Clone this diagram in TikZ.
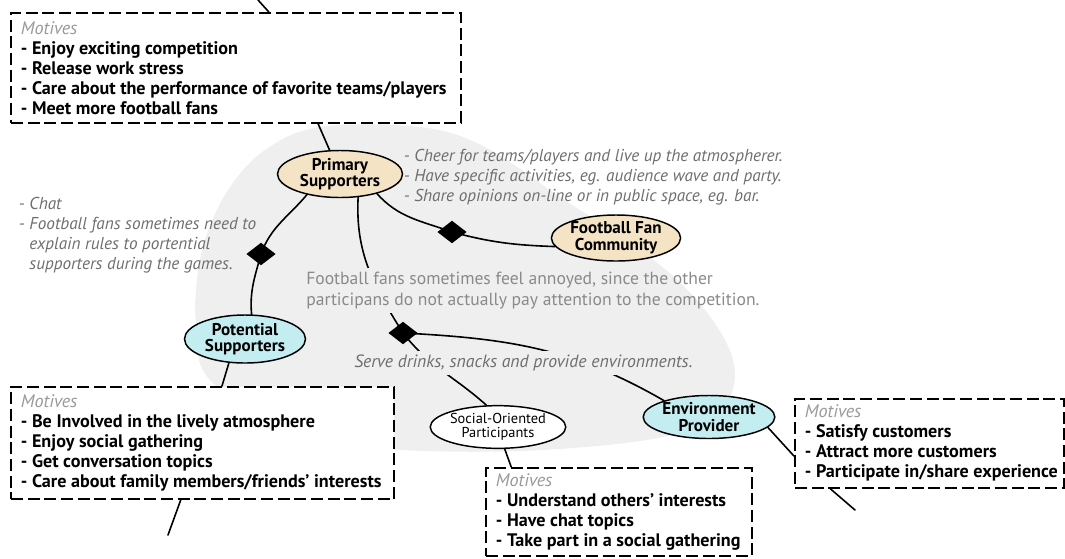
\documentclass[tikz,border=0pt]{standalone}
\usepackage{fontspec}
\setmainfont{PT Sans}
\usetikzlibrary{shapes.geometric,calc}

\definecolor{blobgray}{HTML}{EFEFEF}
\definecolor{beige}{HTML}{F5E3C6}
\definecolor{aqua}{HTML}{C4EDF2}
\definecolor{notegray}{HTML}{6E6E6E}
\definecolor{softgray}{HTML}{8A8A8A}
\definecolor{labelgray}{HTML}{9A9A9A}

\pgfdeclarelayer{blobs}
\pgfdeclarelayer{links}
\pgfdeclarelayer{masks}
\pgfsetlayers{blobs,links,masks,main}

% shared outline of the shaded field behind the roles
\def\blobpath{plot[smooth cycle, tension=0.6] coordinates {(210,380) (197,330) (196,290) (205,240) (228,190) (265,150) (320,127) (420,127) (485,147) (560,197) (650,257) (705,310) (733,360) (728,400) (690,428) (633,442) (520,451) (400,450) (300,440)}}

\newcommand\motlabel{\textmd{\textit{\color{labelgray}Motives}}}

\begin{document}
\begin{tikzpicture}[x=0.75pt,y=-0.75pt,
  role/.style={ellipse, draw, line width=1.1pt, inner sep=0pt, align=center,
    font=\bfseries\fontsize{12.8}{12.4}\selectfont},
  minor/.style={ellipse, draw, line width=1.1pt, inner sep=0pt, align=center,
    font=\fontsize{10.8}{10.8}\selectfont, fill=white},
  link/.style={line width=1.2pt, line cap=round},
  joint/.style={diamond, fill=black, inner sep=0pt, minimum width=22pt, minimum height=17pt},
  motbox/.style={draw, line width=1.3pt, dash pattern=on 9pt off 3.5pt, fill=white,
    anchor=north west, inner sep=0pt},
  mottext/.style={anchor=west, align=left, inner sep=0pt,
    font=\bfseries\fontsize{13.6}{15}\selectfont},
  note/.style={inner sep=2pt, align=left, text=notegray,
    font=\itshape\fontsize{12.9}{15}\selectfont},
  remark/.style={inner sep=3pt, align=left, text=softgray,
    font=\fontsize{13.2}{15.75}\selectfont},
]
\useasboundingbox (0,0) rectangle (1065,558);

% shaded field
\begin{pgfonlayer}{blobs}
  \fill[blobgray] \blobpath;
\end{pgfonlayer}

% roles
\node[role, fill=beige, minimum width=93.75pt, minimum height=35.25pt] (prim) at (340,174) {Primary\\Supporters};
\node[role, fill=beige, minimum width=91.5pt, minimum height=34.5pt] (ffc) at (616,238) {Football Fan\\Community};
\node[role, fill=aqua, minimum width=90.75pt, minimum height=36pt] (pot) at (245,339) {Potential\\Supporters};
\node[role, fill=aqua, minimum width=87pt, minimum height=32.25pt] (env) at (709,417) {Environment\\Provider};
\node[minor, minimum width=87pt, minimum height=32pt] (soc) at (498,427) {Social-Oriented\\Participants};

% relation markers
\node[joint] (d1) at (261,254) {};
\node[joint] (d2) at (452,232) {};
\node[joint] (d3) at (403,333) {};

% annotations
\node[note, anchor=west] (cheer) at (401,177) {- Cheer for teams/players and live up the atmospherer.\\- Have specific activities, eg. audience wave and party.\\- Share opinions on-line or in public space, eg. bar.};
\node[note, anchor=west] (chat) at (16,235) {- Chat\\- Football fans sometimes need to\\\hphantom{- }explain rules to portential\\\hphantom{- }supporters during the games.};
\node[remark, anchor=west] (annoy) at (302,290.5) {Football fans sometimes feel annoyed, since the other\\participans do not actually pay attention to the competition.};
\node[note, inner sep=3pt, anchor=west, font=\itshape\fontsize{13.3}{15}\selectfont] (serve) at (350,363) {Serve drinks, snacks and provide environments.};

% motive boxes
\node[motbox, minimum width=337.5pt, minimum height=82.5pt] (mot1) at (10,12) {};
\node[mottext] (mot1t) at ([xshift=8pt]mot1.west)
  {\motlabel\\- Enjoy exciting competition\\- Release work stress\\- Care about the performance of favorite teams/players\\- Meet more football fans};
\node[motbox, minimum width=287.25pt, minimum height=84pt] (mot2) at (10,386) {};
\node[mottext] (mot2t) at ([xshift=8pt]mot2.west)
  {\motlabel\\- Be Involved in the lively atmosphere\\- Enjoy social gathering\\- Get conversation topics\\- Care about family members/friends' interests};
\node[motbox, minimum width=199.5pt, minimum height=66pt] (mot3) at (485,467) {};
\node[mottext] (mot3t) at ([xshift=8pt]mot3.west)
  {\motlabel\\- Understand others’ interests\\- Have chat topics\\- Take part in a social gathering};
\node[motbox, minimum width=201.75pt, minimum height=66.75pt] (mot4) at (794,398) {};
\node[mottext] (mot4t) at ([xshift=8pt]mot4.west)
  {\motlabel\\- Satisfy customers\\- Attract more customers\\- Participate in/share experience};

% loose ends leading out of the picture
\coordinate (out1) at (258,0);
\coordinate (out2) at (168,535);
\coordinate (out4) at (855,510);

% text masks over the connectors, kept inside the shaded field
\begin{pgfonlayer}{masks}
  \begin{scope}
    \clip \blobpath;
    \fill[blobgray] (annoy.south west) rectangle (annoy.north east);
    \fill[blobgray] (serve.south west) rectangle (serve.north east);
  \end{scope}
\end{pgfonlayer}

% connectors
\begin{pgfonlayer}{links}
  \draw[link] (prim.212) to[out=-130,in=70] (d1.center) to[out=-105,in=95] (pot.75);
  \draw[link] (prim.-28) to[out=-48,in=160] (d2.center) to[out=-15,in=178] (ffc.188);
  \draw[link] (prim.-52) to[out=-93,in=122] (d3.center) to[out=-52,in=138] (soc.118);
  \draw[link] (d3.center) to[out=-3,in=150] (env.160);

  \draw[link] (out1) -- ($(mot1.north west)!0.573!(mot1.north east)$);
  \draw[link] ($(mot1.south west)!0.682!(mot1.south east)$) -- (prim);
  \draw[link] ($(mot2.north west)!0.551!(mot2.north east)$) -- (pot.236);
  \draw[link] ($(mot2.south west)!0.444!(mot2.south east)$) -- (out2);
  \draw[link] ($(mot3.north west)!0.098!(mot3.north east)$) -- (soc.-73);
  \draw[link] ($(mot4.north west)!0.64!(mot4.south west)$) -- (env.-10);
  \draw[link] ($(mot4.south west)!0.134!(mot4.south east)$) -- (out4);
\end{pgfonlayer}
\end{tikzpicture}
\end{document}
